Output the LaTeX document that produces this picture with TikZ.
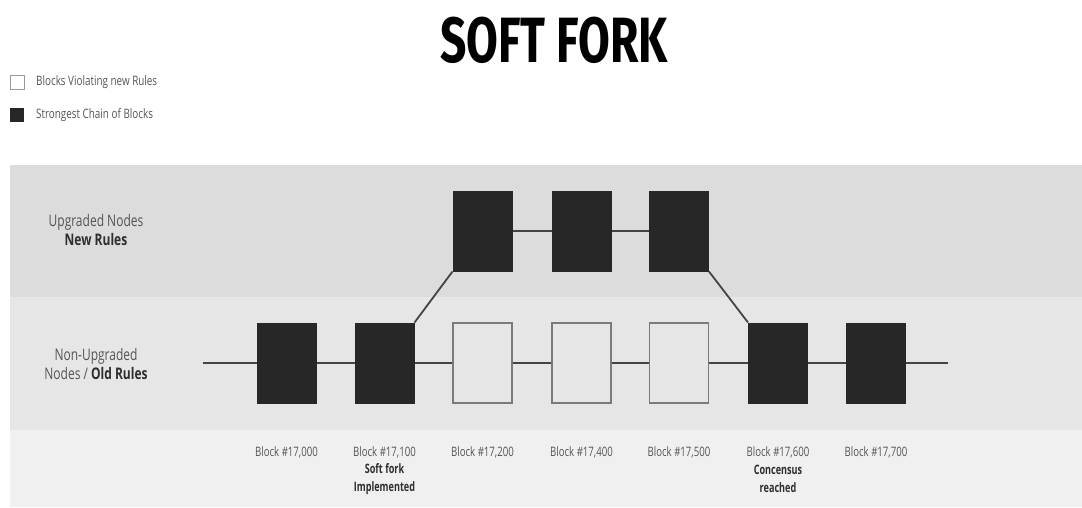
\documentclass[tikz,border=0pt]{standalone}
\usepackage{fontspec}
\setmainfont{Open Sans}[FakeStretch=0.68]
\newfontfamily\rowfont{Open Sans}[FakeStretch=0.75]
\newfontfamily\blkfont{Open Sans}[FakeStretch=0.74]
\newfontfamily\legfont{Open Sans}[FakeStretch=0.76]
\newfontfamily\notefont{Open Sans}[FakeStretch=0.70]
\newfontfamily\titlefont{Fira Sans}[FakeStretch=0.72]
\definecolor{bandA}{HTML}{DCDCDC}
\definecolor{bandB}{HTML}{E6E6E6}
\definecolor{bandC}{HTML}{F0F0F0}
\definecolor{blockdark}{HTML}{272727}
\definecolor{txt}{HTML}{555555}
\definecolor{txtb}{HTML}{2E2E2E}
\definecolor{linec}{HTML}{444444}
\definecolor{weakedge}{HTML}{7A7A7A}
\begin{document}
\begin{tikzpicture}[x=1pt,y=-1pt,
  strong/.style={draw=blockdark,fill=blockdark,line width=1pt,minimum width=59pt,minimum height=80pt,inner sep=0pt},
  weak/.style={draw=weakedge,fill=bandB,line width=1.2pt,minimum width=59pt,minimum height=80pt,inner sep=0pt},
  chain/.style={draw=linec,line width=1.8pt},
  blabel/.style={font=\blkfont\fontsize{13}{15}\selectfont,text=txt,anchor=center,inner sep=0pt},
  note/.style={font=\notefont\fontsize{13}{17.5}\selectfont\bfseries,text=txtb,align=center,inner sep=0pt},
  rowlabel/.style={font=\rowfont\fontsize{16}{19}\selectfont,text=txt,align=center,inner sep=0pt},
  legbox/.style={minimum width=14pt,minimum height=14pt,inner sep=0pt},
  legtext/.style={font=\legfont\fontsize{13}{15}\selectfont,text=txt,anchor=west,inner sep=0pt}]
\useasboundingbox[fill=white] (0,0) rectangle (1082,507);
% bands
\fill[bandA] (10,165) rectangle (1082,297);
\fill[bandB] (10,297) rectangle (1082,430);
\fill[bandC] (10,430) rectangle (1082,507);
% title
\node[font=\titlefont\fontsize{64}{66}\selectfont\bfseries,text=black,inner sep=0pt] (title) at (554,40) {SOFT FORK};
% legend
\node[legbox,draw=gray!80,fill=white,line width=1pt] (lw) at (17,82) {};
\node[legtext] (lwt) at (36,82) {Blocks Violating new Rules};
\node[legbox,fill=blockdark] (ld) at (17,115) {};
\node[legtext] (ldt) at (36,115) {Strongest Chain of Blocks};
% row labels
\node[rowlabel] (up) at (96,230) {Upgraded Nodes\\\textcolor{txtb}{\bfseries New Rules}};
\node[rowlabel] (nonup) at (96,364) {Non-Upgraded\\Nodes / \textcolor{txtb}{\bfseries Old Rules}};
% blocks
\node[strong] (b1) at (286.5,363) {};
\node[strong] (b2) at (384.5,363) {};
\node[weak]   (w1) at (482.5,363) {};
\node[weak]   (w2) at (581.5,363) {};
\node[weak]   (w3) at (679,363) {};
\node[strong] (b6) at (778,363) {};
\node[strong] (b7) at (876,363) {};
\node[strong] (t1) at (482.5,231) {};
\node[strong] (t2) at (581.5,231) {};
\node[strong] (t3) at (679,231) {};
\coordinate (s) at (203,363);
\coordinate (e) at (948,363);
% connectors
\draw[chain] (s) -- (b1);
\draw[chain] (b1) -- (b2);
\draw[chain] (b2) -- (w1);
\draw[chain] (w1) -- (w2);
\draw[chain] (w2) -- (w3);
\draw[chain] (w3) -- (b6);
\draw[chain] (b6) -- (b7);
\draw[chain] (b7) -- (e);
\draw[chain] (t1) -- (t2);
\draw[chain] (t2) -- (t3);
\draw[chain] (b2.north east) -- (t1.south west);
\draw[chain] (t3.south east) -- (b6.north west);
% block labels
\node[blabel] (l1) at (286.5,452) {Block \#17,000};
\node[blabel] (l2) at (384.5,452) {Block \#17,100};
\node[blabel] (l3) at (482.5,452) {Block \#17,200};
\node[blabel] (l4) at (581.5,452) {Block \#17,400};
\node[blabel] (l5) at (679,452) {Block \#17,500};
\node[blabel] (l6) at (778,452) {Block \#17,600};
\node[blabel] (l7) at (876,452) {Block \#17,700};
\node[note] (n2) at (384.5,479) {Soft fork\\Implemented};
\node[note] (n6) at (778,479) {Concensus\\reached};
\end{tikzpicture}
\end{document}
